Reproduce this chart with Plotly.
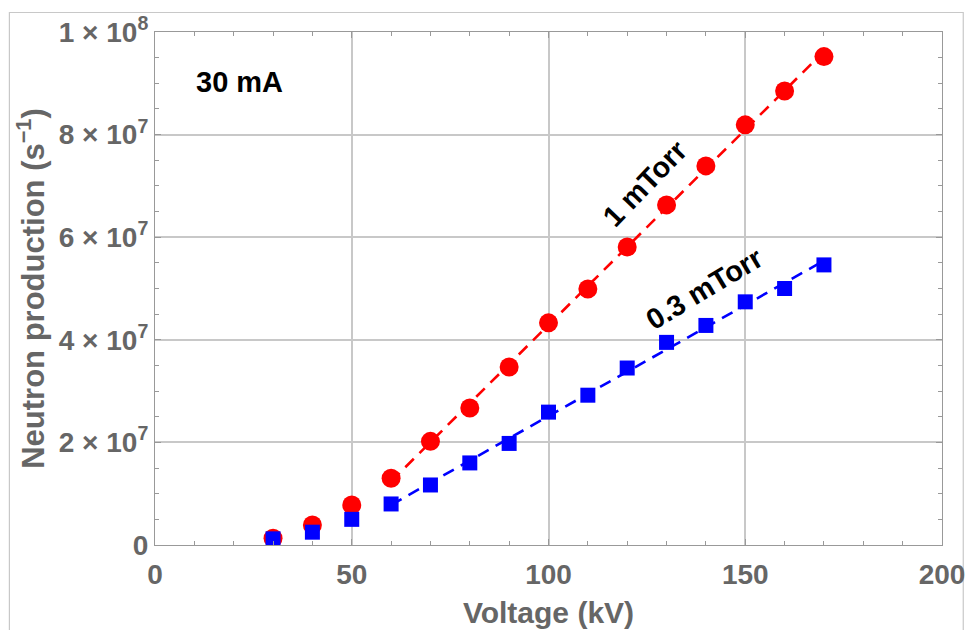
import numpy as np
import plotly.graph_objects as go

# Data
voltage_kv = [30, 40, 50, 60, 70, 80, 90, 100, 110, 120, 130, 140, 150, 160, 170]
neutrons_1mtorr = [1.3e6, 3.9e6, 7.8e6, 13.0e6, 20.2e6, 26.7e6, 34.7e6, 43.3e6,
                   49.9e6, 58.1e6, 66.3e6, 73.9e6, 81.9e6, 88.5e6, 95.2e6]
neutrons_03mtorr = [1.2e6, 2.5e6, 5.0e6, 8.0e6, 11.7e6, 16.0e6, 19.8e6, 25.9e6,
                    29.2e6, 34.5e6, 39.5e6, 42.8e6, 47.4e6, 50.0e6, 54.6e6]
fit_start_kv = 60

y_tickvals = [0, 2e7, 4e7, 6e7, 8e7, 1e8]
y_ticktext = ["0", "2 × 10<sup>7</sup>", "4 × 10<sup>7</sup>", "6 × 10<sup>7</sup>",
              "8 × 10<sup>7</sup>", "1 × 10<sup>8</sup>"]
x_tickvals = [0, 50, 100, 150, 200]

GRAY = "#666666"
FONT = "Liberation Sans, Arial, sans-serif"


def linear_fit(xs, ys, x0):
    xa = np.array(xs, dtype=float)
    ya = np.array(ys, dtype=float)
    m = xa >= x0
    p = np.polyfit(xa[m], ya[m], 1)
    xf = np.array([xa[m].min(), xa[m].max()])
    return xf, np.polyval(p, xf)


fig = go.Figure()

xr, yr = linear_fit(voltage_kv, neutrons_1mtorr, fit_start_kv)
xb, yb = linear_fit(voltage_kv, neutrons_03mtorr, fit_start_kv)

fig.add_trace(go.Scatter(x=xr, y=yr, mode="lines",
                         line=dict(color="#ff0000", width=2.6, dash="12px,8px"),
                         showlegend=False, hoverinfo="skip"))
fig.add_trace(go.Scatter(x=xb, y=yb, mode="lines",
                         line=dict(color="#0000ff", width=2.6, dash="12px,8px"),
                         showlegend=False, hoverinfo="skip"))
fig.add_trace(go.Scatter(x=voltage_kv, y=neutrons_1mtorr, mode="markers",
                         marker=dict(symbol="circle", size=19, color="#ff0000",
                                     line=dict(width=0)),
                         name="1 mTorr", showlegend=False))
fig.add_trace(go.Scatter(x=voltage_kv, y=neutrons_03mtorr, mode="markers",
                         marker=dict(symbol="square", size=15, color="#0000ff",
                                     line=dict(width=0)),
                         name="0.3 mTorr", showlegend=False))

axis_common = dict(
    showline=True, linecolor="#999999", linewidth=1.2, mirror="ticks",
    ticks="inside", ticklen=6, tickcolor="#999999", tickwidth=1,
    showgrid=True, gridcolor="#c8c8c8", gridwidth=1.6, zeroline=False,
    automargin=False,
    tickfont=dict(family=FONT, size=28, color=GRAY, weight="bold"),
)

fig.update_xaxes(
    range=[0, 200], tickvals=x_tickvals,
    minor=dict(dtick=10, ticks="inside", ticklen=4, tickcolor="#999999", showgrid=False),
    title=dict(text="Voltage (kV)", standoff=13,
               font=dict(family=FONT, size=30, color=GRAY, weight="bold")),
    ticklabelstandoff=4,
    **axis_common,
)
fig.update_yaxes(
    range=[0, 1e8], tickvals=y_tickvals, ticktext=y_ticktext,
    minor=dict(dtick=5e6, ticks="inside", ticklen=4, tickcolor="#999999", showgrid=False),
    title=dict(text="Neutron production (s<sup>−1</sup>)", standoff=4,
               font=dict(family=FONT, size=31, color=GRAY, weight="bold")),
    ticklabelstandoff=0,
    **axis_common,
)

fig.add_annotation(x=0.05, y=0.9025, xref="paper", yref="paper", text="30 mA",
                   showarrow=False, xanchor="left", yanchor="middle",
                   font=dict(family=FONT, size=29, color="black", weight="bold"))
fig.add_annotation(x=124.6, y=70.5e6, text="1 mTorr", showarrow=False, textangle=-46,
                   font=dict(family=FONT, size=29, color="black", weight="bold"))
fig.add_annotation(x=139.4, y=50.0e6, text="0.3 mTorr", showarrow=False, textangle=-31,
                   font=dict(family=FONT, size=29, color="black", weight="bold"))

# outer light frame
fig.add_shape(type="rect", xref="paper", yref="paper",
              x0=-0.185, x1=1.027, y0=-0.3, y1=1.038,
              line=dict(color="#c8c8c8", width=1.2), fillcolor="rgba(0,0,0,0)",
              layer="below")

fig.update_layout(
    width=969, height=630, autosize=False,
    margin=dict(l=155, r=27, t=32, b=85),
    paper_bgcolor="white", plot_bgcolor="white",
    showlegend=False,
)

fig.write_html("out.html", config={"displayModeBar": False},
               post_script="document.body.style.margin='0';")
